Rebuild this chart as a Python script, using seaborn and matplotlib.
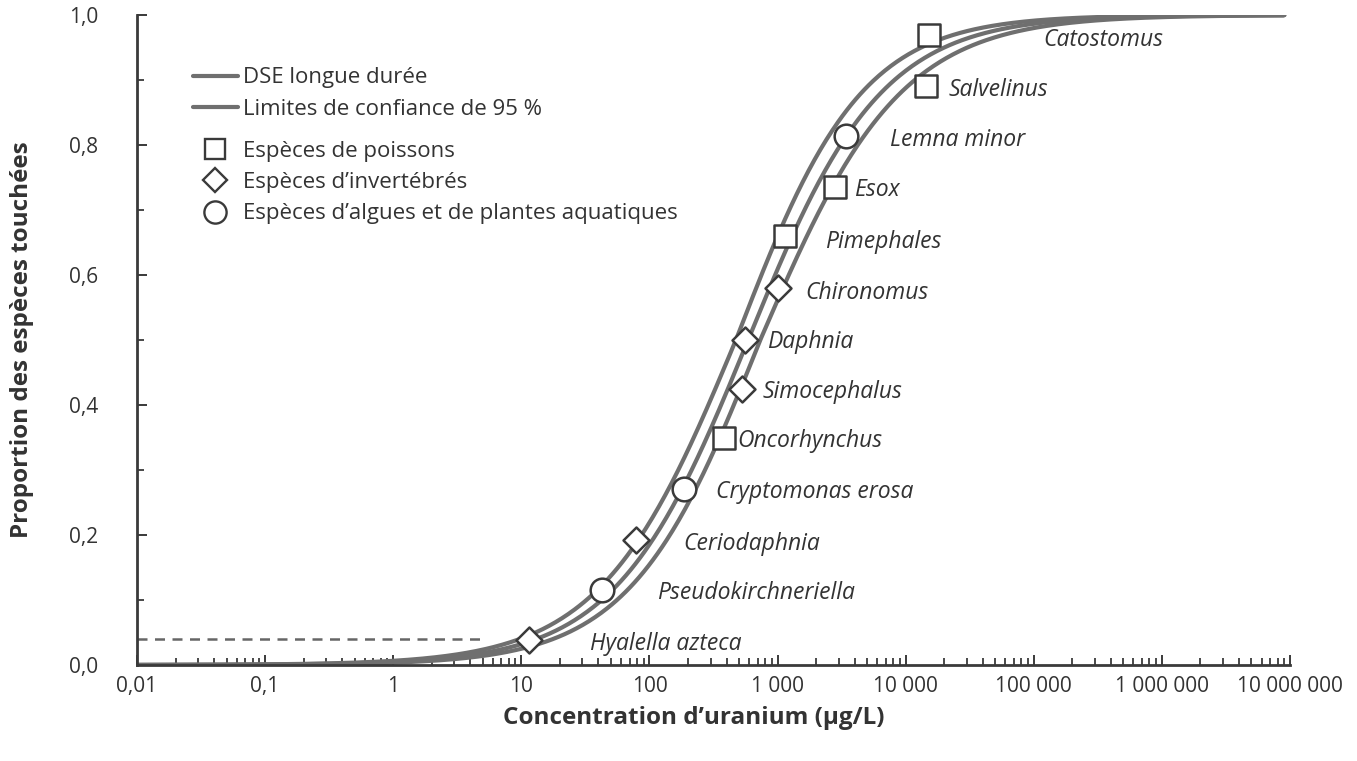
import numpy as np
import pandas as pd
import matplotlib
matplotlib.use("Agg")
import matplotlib.pyplot as plt
from matplotlib.lines import Line2D
from matplotlib.ticker import FixedLocator, LogLocator, NullFormatter
import seaborn as sns

# ---------------- data ----------------
species = ["Catostomus", "Salvelinus", "Lemna minor", "Esox", "Pimephales",
           "Chironomus", "Daphnia", "Simocephalus", "Oncorhynchus",
           "Cryptomonas erosa", "Ceriodaphnia", "Pseudokirchneriella",
           "Hyalella azteca"]
groups = ["poisson", "poisson", "algue", "poisson", "poisson",
          "invertebre", "invertebre", "invertebre", "poisson",
          "algue", "invertebre", "algue", "invertebre"]
concentration = [15100, 14500, 3400, 2790, 1150, 1000, 560, 525, 385,
                 187, 79, 43, 11.5]
proportion = [0.969, 0.891, 0.814, 0.735, 0.660, 0.580, 0.500, 0.425,
              0.349, 0.271, 0.192, 0.115, 0.038]

# fitted SSD (logistic in log10 concentration) and the width of its 95 % limits
ssd_center_log10 = 2.77
ssd_scale_log10 = 0.52
limit_halfwidth_center = 0.095   # decades, at the median
limit_growth_upper = 0.029       # extra decades per logit unit above the median
limit_growth_lower = 0.011       # extra decades per logit unit below the median

# dashed guide
guide_y = 0.04
guide_x_end = 5.0

x_tick_values = [0.01, 0.1, 1, 10, 100, 1e3, 1e4, 1e5, 1e6, 1e7]
x_tick_labels = ["0,01", "0,1", "1", "10", "100", "1 000", "10 000",
                 "100 000", "1 000 000", "10 000 000"]
y_tick_values = [0.0, 0.2, 0.4, 0.6, 0.8, 1.0]
y_tick_labels = ["0,0", "0,2", "0,4", "0,6", "0,8", "1,0"]

# label offsets in pixels (dx, dy) relative to the markers
label_offsets = [(115, -5), (22, -4), (44, -4), (19, -3), (40, -6),
                 (28, -5), (22, -2), (21, -3), (13, -3), (32, -3),
                 (47, -4), (55, -3), (61, -4)]

# ---------------- figure ----------------
sns.set_theme(style="white")
plt.rcParams["font.family"] = ["Open Sans", "DejaVu Sans"]

TEXT = "#333333"
CURVE = "#6f6f6f"
EDGE = "#3a3a3a"

fig = plt.figure(figsize=(13.57, 7.61), dpi=100)
ax = fig.add_axes([137 / 1357, 1 - 665 / 761, 1153 / 1357, 650 / 761])

# curves parametrised by the logit of the proportion
z = np.linspace(-14, 14, 1200)
p = 1.0 / (1.0 + np.exp(-z))
mid_log = ssd_center_log10 + ssd_scale_log10 * z
half = (limit_halfwidth_center + limit_growth_upper * np.clip(z, 0, None)
        + limit_growth_lower * np.clip(-z, 0, None))
frames = []
for name, lg in (("low", mid_log - half), ("mid", mid_log), ("high", mid_log + half)):
    keep = (lg >= -2) & (lg <= 6.96)
    frames.append(pd.DataFrame({"x": 10 ** lg[keep], "y": p[keep], "c": name}))
curves = pd.concat(frames)
sns.lineplot(data=curves, x="x", y="y", units="c", estimator=None, sort=False,
             color=CURVE, lw=3.0, ax=ax, zorder=2)

ax.plot([0.01, guide_x_end], [guide_y, guide_y], ls=(0, (4, 3)),
        color="#666666", lw=1.8, zorder=1)

df = pd.DataFrame({"species": species, "group": groups,
                   "x": concentration, "y": proportion})
marker_for = {"poisson": ("s", 270), "invertebre": ("D", 175), "algue": ("o", 290)}
for g, (m, s) in marker_for.items():
    sub = df[df["group"] == g]
    sns.scatterplot(data=sub, x="x", y="y", marker=m, s=s, color="white",
                    edgecolor=EDGE, linewidth=1.8, ax=ax, zorder=5)

for (name, x, y), (dx, dy) in zip(zip(species, concentration, proportion), label_offsets):
    ax.annotate(name, (x, y), xytext=(dx, dy), textcoords="offset pixels",
                ha="left", va="center", fontsize=16.5, style="italic",
                color=TEXT)

ax.set_xscale("log")
ax.set_xlim(0.01, 1e7)
ax.set_ylim(0, 1.0)
ax.xaxis.set_major_locator(FixedLocator(x_tick_values))
ax.set_xticklabels(x_tick_labels)
ax.xaxis.set_minor_locator(LogLocator(base=10, subs=np.arange(2, 10), numticks=50))
ax.xaxis.set_minor_formatter(NullFormatter())
ax.yaxis.set_major_locator(FixedLocator(y_tick_values))
ax.set_yticklabels(y_tick_labels)
ax.yaxis.set_minor_locator(FixedLocator([0.1, 0.3, 0.5, 0.7, 0.9]))

ax.tick_params(axis="both", which="both", bottom=True, left=True,
               top=False, right=False, direction="in")
ax.tick_params(axis="both", which="major", length=7, width=1.4,
               colors=EDGE, labelcolor=TEXT, labelsize=15)
ax.tick_params(axis="both", which="minor", length=5, width=1.3, colors=EDGE)
ax.tick_params(axis="y", which="major", pad=28)
ax.tick_params(axis="x", which="major", pad=8)

for side in ("top", "right"):
    ax.spines[side].set_visible(False)
for side in ("left", "bottom"):
    ax.spines[side].set_color(EDGE)
    ax.spines[side].set_linewidth(2.0)

ax.set_xlabel("Concentration d\u2019uranium (\u00b5g/L)", fontsize=17.5,
              fontweight="bold", color=TEXT, va="center")
ax.xaxis.set_label_coords(0.483, -0.082)
ax.set_ylabel("Proportion des esp\u00e8ces touch\u00e9es", fontsize=17.5,
              fontweight="bold", color=TEXT, va="center")
ax.yaxis.set_label_coords(-0.0997, 0.5)

line_handles = [Line2D([], [], color=CURVE, lw=3), Line2D([], [], color=CURVE, lw=3)]
line_labels = ["DSE longue dur\u00e9e", "Limites de confiance de 95 %"]
mark_handles = [
    Line2D([], [], ls="none", marker="s", ms=15, mfc="white", mec=EDGE, mew=1.7),
    Line2D([], [], ls="none", marker="D", ms=12, mfc="white", mec=EDGE, mew=1.7),
    Line2D([], [], ls="none", marker="o", ms=16, mfc="white", mec=EDGE, mew=1.7),
]
mark_labels = ["Esp\u00e8ces de poissons", "Esp\u00e8ces d\u2019invert\u00e9br\u00e9s",
               "Esp\u00e8ces d\u2019algues et de plantes aquatiques"]
common = dict(loc="upper left", frameon=False, fontsize=16, handlelength=2.03,
              handletextpad=0.23, labelspacing=0.47, borderaxespad=0)
leg1 = ax.legend(line_handles, line_labels, bbox_to_anchor=(0.0408, 0.933), **common)
ax.add_artist(leg1)
leg2 = ax.legend(mark_handles, mark_labels, bbox_to_anchor=(0.0408, 0.8205), **common)
for lg in (leg1, leg2):
    for t in lg.get_texts():
        t.set_color(TEXT)

fig.savefig("out.png", dpi=100)
